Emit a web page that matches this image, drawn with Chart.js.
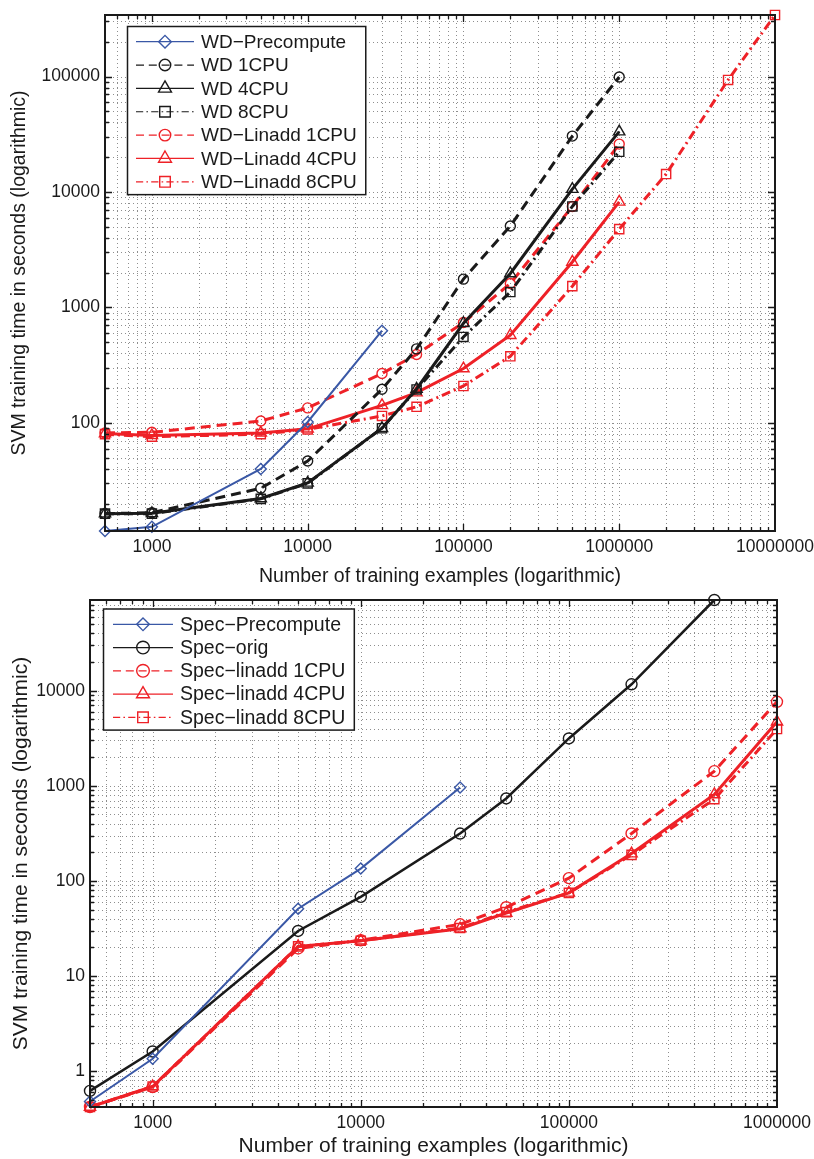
<!DOCTYPE html>
<html>
<head>
<meta charset="utf-8">
<script src="https://cdn.jsdelivr.net/npm/chart.js@4.4.1/dist/chart.umd.min.js"></script>
<style>
  html, body { margin: 0; padding: 0; background: #fff; }
  #wrap { position: relative; width: 814px; height: 1159px; }
  canvas { position: absolute; left: 0; }
</style>
</head>
<body>
<div id="wrap">
  <canvas id="wdChart" width="814" height="590" style="top:0"></canvas>
  <canvas id="specChart" width="814" height="569" style="top:590px"></canvas>
</div>
<script>
// --- top panel: WD kernel ---
const wdSizes = [500, 1000, 5000, 10000, 30000, 50000, 100000, 200000, 500000, 1000000];
const wdBigSizes = [500, 1000, 5000, 10000, 30000, 50000, 100000, 200000, 500000, 1000000, 2000000, 5000000, 10000000];
const wdPrecomputeSizes = [500, 1000, 5000, 10000, 30000];
const wdPrecompute = [11.6, 12.6, 40, 102, 630];
const wd1cpu = [16.4, 16.7, 27.2, 46.8, 196, 438, 1760, 5070, 30500, 99000];
const wd4cpu = [16.4, 16.5, 22.2, 30.3, 90, 197, 730, 1970, 10600, 33300];
const wd8cpu = [16.4, 16.4, 22, 30, 90, 195, 556, 1360, 7500, 22300];
const wdLinadd1cpu = [82, 83, 104, 135, 268, 392, 741, 1615, 7500, 26000];
const wdLinadd4cpu = [81, 78, 82, 89, 142, 183, 296, 575, 2480, 8220];
const wdLinadd8cpu = [80, 76, 80, 88, 115, 138, 209, 378, 1530, 4770, 14300, 93400, 341000];

// --- bottom panel: spectrum kernel ---
const specSizes = [500, 1000, 5000, 10000, 30000, 50000, 100000, 200000, 500000, 1000000];
const specOrigSizes = [500, 1000, 5000, 10000, 30000, 50000, 100000, 200000, 500000];
const specPrecomputeSizes = [500, 1000, 5000, 10000, 30000];
const specPrecompute = [0.48, 1.35, 51, 135, 960];
const specOrig = [0.62, 1.61, 29.8, 68, 315, 737, 3150, 11700, 90000];
const specLinadd1cpu = [0.42, 0.68, 19.5, 23.8, 35, 53, 107, 316, 1430, 7660];
const specLinadd4cpu = [0.42, 0.69, 20.5, 23.5, 31.5, 46, 75, 194, 812, 4720];
const specLinadd8cpu = [0.42, 0.69, 20.5, 23.5, 32, 47, 75, 188, 724, 3955];

const xTitle = "Number of training examples (logarithmic)";
const yTitle = "SVM training time in seconds (logarithmic)";

const BLUE = "#3a58a6";
const RED = "#ee2127";
const BLACK = "#1a1a1a";
const FONT = "'Liberation Sans', Arial, Helvetica, sans-serif";
const DASH = [10, 6];
const DASHDOT = [9, 4, 2, 4];

function pts(xs, ys) {
  return xs.map((x, i) => ({ x: x, y: ys[i] }));
}

function series(label, xs, ys, color, width, dash, marker, radius) {
  return {
    label: label,
    data: pts(xs, ys),
    borderColor: color,
    borderWidth: width,
    borderDash: dash,
    pointStyle: marker,
    pointRadius: radius,
    pointBorderWidth: 1.4,
    pointBorderColor: color,
    pointBackgroundColor: "rgba(0,0,0,0)",
    tension: 0,
    fill: false,
    clip: false,
  };
}

function logTicks(min, max) {
  const out = [];
  for (let e = Math.floor(Math.log10(min)); e <= Math.ceil(Math.log10(max)); e++) {
    for (let s = 1; s < 10; s++) {
      const v = parseFloat((s * Math.pow(10, e)).toPrecision(12));
      if (v >= min && v <= max) out.push(v);
    }
  }
  return out;
}

const isDecade = (v) => Math.abs(Math.log10(v) - Math.round(Math.log10(v))) < 1e-9;

function drawMarker(ctx, style, x, y, r) {
  ctx.beginPath();
  if (style === "circle") {
    ctx.arc(x, y, r, 0, Math.PI * 2);
  } else if (style === "triangle") {
    ctx.moveTo(x, y - r);
    ctx.lineTo(x + r * 0.866, y + r * 0.5);
    ctx.lineTo(x - r * 0.866, y + r * 0.5);
    ctx.closePath();
  } else if (style === "rect") {
    const s = r * Math.SQRT1_2;
    ctx.rect(x - s, y - s, 2 * s, 2 * s);
  } else if (style === "rectRot") {
    ctx.moveTo(x, y - r);
    ctx.lineTo(x + r, y);
    ctx.lineTo(x, y + r);
    ctx.lineTo(x - r, y);
    ctx.closePath();
  }
  ctx.stroke();
}

// dotted grid at every tick, inward tick marks and the box, matlab style
const matlabAxes = {
  id: "matlabAxes",
  beforeDatasetsDraw(chart) {
    const { ctx, chartArea: a, scales } = chart;
    const xs = scales.x, ys = scales.y;
    ctx.save();
    ctx.strokeStyle = "#8e8e8e";
    ctx.lineWidth = 1;
    ctx.setLineDash([1, 3]);
    ctx.beginPath();
    xs.ticks.forEach((t) => {
      if (t.value <= xs.min || t.value >= xs.max) return;
      const px = Math.round(xs.getPixelForValue(t.value)) + 0.5;
      ctx.moveTo(px, a.top);
      ctx.lineTo(px, a.bottom);
    });
    ys.ticks.forEach((t) => {
      if (t.value <= ys.min || t.value >= ys.max) return;
      const py = Math.round(ys.getPixelForValue(t.value)) + 0.5;
      ctx.moveTo(a.left, py);
      ctx.lineTo(a.right, py);
    });
    ctx.stroke();
    ctx.restore();
  },
  afterDraw(chart) {
    const { ctx, chartArea: a, scales } = chart;
    const xs = scales.x, ys = scales.y;
    ctx.save();
    ctx.strokeStyle = BLACK;
    ctx.lineWidth = 1.3;
    ctx.beginPath();
    xs.ticks.forEach((t) => {
      if (t.value <= xs.min || t.value >= xs.max) return;
      const px = Math.round(xs.getPixelForValue(t.value)) + 0.5;
      const len = isDecade(t.value) ? 7 : 4;
      ctx.moveTo(px, a.bottom); ctx.lineTo(px, a.bottom - len);
      ctx.moveTo(px, a.top); ctx.lineTo(px, a.top + len);
    });
    ys.ticks.forEach((t) => {
      if (t.value <= ys.min || t.value >= ys.max) return;
      const py = Math.round(ys.getPixelForValue(t.value)) + 0.5;
      const len = isDecade(t.value) ? 7 : 4;
      ctx.moveTo(a.left, py); ctx.lineTo(a.left + len, py);
      ctx.moveTo(a.right, py); ctx.lineTo(a.right - len, py);
    });
    ctx.stroke();
    ctx.lineWidth = 2;
    ctx.strokeRect(a.left, a.top, a.right - a.left, a.bottom - a.top);
    ctx.restore();
  },
};

// legend box with a line sample and a marker, drawn inside the plot
const boxLegend = {
  id: "boxLegend",
  afterDatasetsDraw(chart, args, o) {
    const ctx = chart.ctx;
    const sets = chart.data.datasets;
    ctx.save();
    ctx.font = o.fontSize + "px " + FONT;
    const textW = Math.max(...sets.map((d) => ctx.measureText(d.label).width));
    const right = o.textX + textW + 9;
    const bottom = o.firstY + o.rowH * (sets.length - 1) + o.rowH * 0.55;
    ctx.fillStyle = "#fff";
    ctx.fillRect(o.left, o.top, right - o.left, bottom - o.top);
    ctx.strokeStyle = BLACK;
    ctx.lineWidth = 1.5;
    ctx.strokeRect(o.left, o.top, right - o.left, bottom - o.top);
    sets.forEach((d, i) => {
      const y = o.firstY + i * o.rowH;
      ctx.strokeStyle = d.borderColor;
      ctx.lineWidth = 1.2;
      ctx.setLineDash((d.borderDash || []).map((v) => v * 0.8));
      ctx.beginPath();
      ctx.moveTo(o.lineX0, y);
      ctx.lineTo(o.lineX1, y);
      ctx.stroke();
      ctx.setLineDash([]);
      ctx.lineWidth = 1.4;
      drawMarker(ctx, d.pointStyle, (o.lineX0 + o.lineX1) / 2, y, d.pointRadius * 1.15);
      ctx.fillStyle = BLACK;
      ctx.textAlign = "left";
      ctx.textBaseline = "middle";
      ctx.fillText(d.label, o.textX, y + 1);
    });
    ctx.restore();
  },
};

function logAxis(min, max, isX, p) {
  return {
    type: "logarithmic",
    min: min,
    max: max,
    grid: { display: false, drawTicks: false },
    border: { display: false },
    afterBuildTicks: (s) => {
      s.ticks = logTicks(min, max).map((v) => ({ value: v }));
    },
    ticks: {
      autoSkip: false,
      maxRotation: 0,
      minRotation: 0,
      padding: isX ? p.xTickPad : 5,
      color: BLACK,
      font: { family: FONT, size: 17.5 },
      callback: (v) => (isDecade(v) ? String(Math.round(v)) : ""),
    },
    title: {
      display: true,
      text: isX ? xTitle : yTitle,
      color: BLACK,
      font: { family: FONT, size: p.titleSize },
      padding: isX ? { top: 0, bottom: p.xTitlePad } : { top: p.yTitlePad, bottom: 0 },
    },
    afterFit: (s) => {
      if (isX) {
        s.height = p.xHeight;
      } else {
        s.width = p.yWidth;
      }
      s.paddingLeft = 0;
      s.paddingRight = 0;
      s.paddingTop = 0;
      s.paddingBottom = 0;
    },
  };
}

function makeChart(id, datasets, xMin, xMax, p, legend) {
  const all = datasets.flatMap((d) => d.data.map((q) => q.y));
  const yMin = Math.min(...all);
  const yMax = Math.max(...all);
  return new Chart(document.getElementById(id), {
    type: "line",
    data: { datasets: datasets },
    options: {
      responsive: false,
      animation: false,
      layout: { padding: p.padding },
      plugins: {
        legend: { display: false },
        tooltip: { enabled: false },
        boxLegend: legend,
      },
      scales: {
        x: logAxis(xMin, xMax, true, p),
        y: logAxis(yMin, yMax, false, p),
      },
    },
    plugins: [matlabAxes, boxLegend],
  });
}

makeChart(
  "wdChart",
  [
    series("WD\u2212Precompute", wdPrecomputeSizes, wdPrecompute, BLUE, 2, [], "rectRot", 5.5),
    series("WD 1CPU", wdSizes, wd1cpu, BLACK, 3, DASH, "circle", 5),
    series("WD 4CPU", wdSizes, wd4cpu, BLACK, 3, [], "triangle", 6.5),
    series("WD 8CPU", wdSizes, wd8cpu, BLACK, 3, DASHDOT, "rect", 6.5),
    series("WD\u2212Linadd 1CPU", wdSizes, wdLinadd1cpu, RED, 3, DASH, "circle", 5),
    series("WD\u2212Linadd 4CPU", wdSizes, wdLinadd4cpu, RED, 3, [], "triangle", 6.5),
    series("WD\u2212Linadd 8CPU", wdBigSizes, wdLinadd8cpu, RED, 3, DASHDOT, "rect", 6.5),
  ],
  500, 10000000,
  {
    padding: { top: 15, right: 39, left: 0, bottom: 0 },
    yWidth: 105, xHeight: 59, xTickPad: 6,
    titleSize: 19.5, xTitlePad: 2, yTitlePad: 8,
  },
  { left: 127.5, top: 26.5, firstY: 41.7, rowH: 23.35, lineX0: 136, lineX1: 194, textX: 201, fontSize: 19 }
);

makeChart(
  "specChart",
  [
    series("Spec\u2212Precompute", specPrecomputeSizes, specPrecompute, BLUE, 2, [], "rectRot", 5.5),
    series("Spec\u2212orig", specOrigSizes, specOrig, BLACK, 2.5, [], "circle", 5.5),
    series("Spec\u2212linadd 1CPU", specSizes, specLinadd1cpu, RED, 3, DASH, "circle", 5.5),
    series("Spec\u2212linadd 4CPU", specSizes, specLinadd4cpu, RED, 3, [], "triangle", 6.5),
    series("Spec\u2212linadd 8CPU", specSizes, specLinadd8cpu, RED, 3, DASHDOT, "rect", 6.5),
  ],
  500, 1000000,
  {
    padding: { top: 10, right: 37, left: 0, bottom: 0 },
    yWidth: 90, xHeight: 52, xTickPad: 6,
    titleSize: 21, xTitlePad: 0, yTitlePad: 9,
  },
  { left: 103.5, top: 19, firstY: 34.3, rowH: 23.25, lineX0: 113, lineX1: 173, textX: 180, fontSize: 19.5 }
);
</script>
</body>
</html>
